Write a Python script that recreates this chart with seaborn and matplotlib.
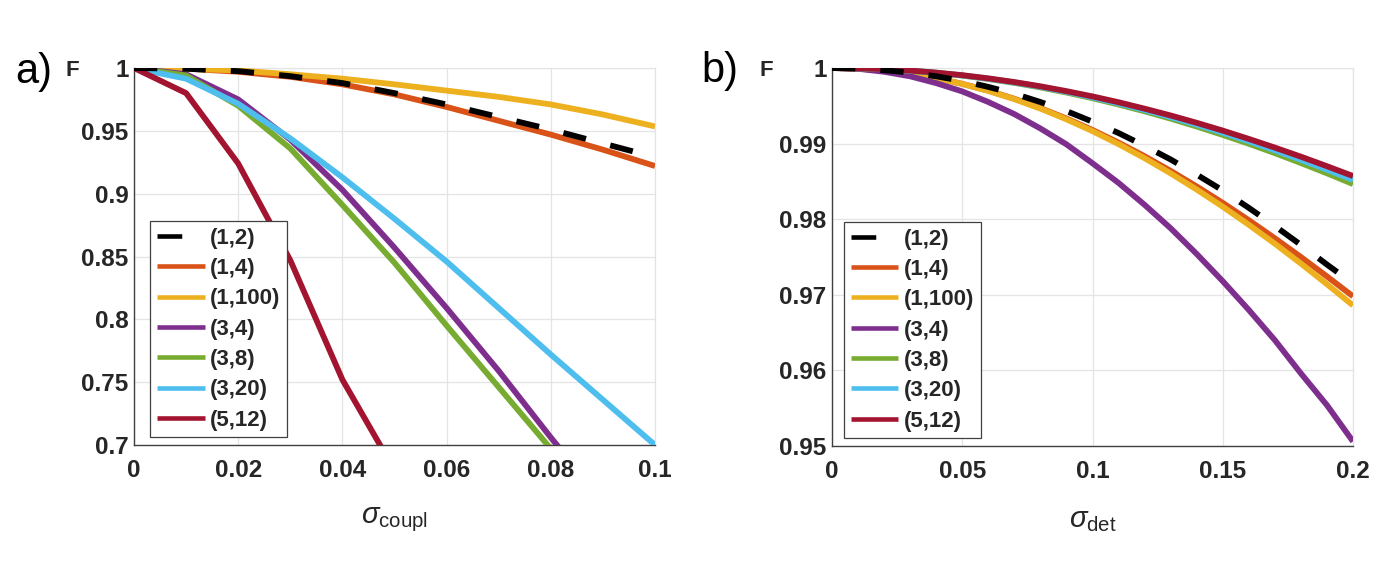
import numpy as np
import pandas as pd
import seaborn as sns
import matplotlib
matplotlib.use("Agg")
import matplotlib.pyplot as plt

# data
labels = ["(1,2)", "(1,4)", "(1,100)", "(3,4)", "(3,8)", "(3,20)", "(5,12)"]
colors = ["#000000", "#D95319", "#EDB120", "#7E2F8E", "#77AC30", "#4DBEEE", "#A2142F"]

# panel a) : fidelity vs sigma_coupl
x_coupl = [0.0, 0.01, 0.02, 0.03, 0.04, 0.05, 0.06, 0.07, 0.08, 0.09, 0.10]
coupl_12 = [1.0, 0.9994, 0.9975, 0.9935, 0.988, 0.980, 0.971, 0.961, 0.951, 0.940, 0.929]
coupl_14 = [1.0, 0.9995, 0.997, 0.993, 0.987, 0.979, 0.969, 0.958, 0.947, 0.935, 0.922]
coupl_1100 = [1.0, 0.9995, 0.998, 0.995, 0.9915, 0.987, 0.982, 0.977, 0.971, 0.963, 0.9535]
coupl_34 = [1.0, 0.995, 0.975, 0.943, 0.903, 0.857, 0.809, 0.759, 0.706, 0.655, 0.605]
coupl_38 = [1.0, 0.994, 0.970, 0.936, 0.891, 0.845, 0.795, 0.746, 0.697, 0.648, 0.600]
coupl_320 = [1.0, 0.9915, 0.9715, 0.944, 0.913, 0.880, 0.846, 0.809, 0.772, 0.736, 0.700]
coupl_512 = [1.0, 0.980, 0.924, 0.847, 0.752, 0.680, np.nan, np.nan, np.nan, np.nan, np.nan]

# panel b) : fidelity vs sigma_det
x_det = [0.0, 0.01, 0.02, 0.03, 0.04, 0.05, 0.06, 0.07, 0.08, 0.09, 0.10,
         0.11, 0.12, 0.13, 0.14, 0.15, 0.16, 0.17, 0.18, 0.19, 0.20]
det_12 = [1.0, 0.99993, 0.9997, 0.9994, 0.9989, 0.9983, 0.9975, 0.9966, 0.9955, 0.9943, 0.9929,
          0.9914, 0.9897, 0.9879, 0.9859, 0.9838, 0.9815, 0.9791, 0.9766, 0.9740, 0.9715]
det_14 = [1.0, 0.99992, 0.99966, 0.99924, 0.99866, 0.99791, 0.99700, 0.99593, 0.99470, 0.99332, 0.99180,
          0.99013, 0.98833, 0.98639, 0.98433, 0.98216, 0.97987, 0.97748, 0.97500, 0.97243, 0.96980]
det_1100 = [1.0, 0.99992, 0.99966, 0.99923, 0.99865, 0.99789, 0.99697, 0.99588, 0.99463, 0.99321, 0.99165,
            0.98993, 0.98807, 0.98606, 0.98392, 0.98165, 0.97926, 0.97676, 0.97413, 0.97140, 0.96860]
det_34 = [1.0, 0.9999, 0.9995, 0.9989, 0.9980, 0.9969, 0.9955, 0.9939, 0.9920, 0.9899, 0.9874,
          0.9848, 0.9819, 0.9788, 0.9754, 0.9718, 0.9680, 0.9640, 0.9596, 0.9554, 0.9506]
det_38 = [1.0, 0.99996, 0.99984, 0.99964, 0.99935, 0.99899, 0.99855, 0.99803, 0.99743, 0.99675, 0.99600,
          0.99517, 0.99427, 0.99330, 0.99226, 0.99115, 0.98998, 0.98874, 0.98743, 0.98607, 0.98465]
det_320 = [1.0, 0.99996, 0.99985, 0.99965, 0.99937, 0.99902, 0.99859, 0.99809, 0.99751, 0.99685, 0.99612,
           0.99532, 0.99445, 0.99351, 0.99251, 0.99144, 0.99031, 0.98911, 0.98786, 0.98655, 0.98520]
det_512 = [1.0, 0.99996, 0.99985, 0.99966, 0.99939, 0.99905, 0.99863, 0.99814, 0.99758, 0.99694, 0.99624,
           0.99547, 0.99462, 0.99372, 0.99275, 0.99172, 0.99062, 0.98947, 0.98827, 0.98701, 0.98571]

coupl_ticks = [0, 0.02, 0.04, 0.06, 0.08, 0.1]
coupl_ticklabels = ["0", "0.02", "0.04", "0.06", "0.08", "0.1"]
coupl_yticks = [0.7, 0.75, 0.8, 0.85, 0.9, 0.95, 1.0]
coupl_yticklabels = ["0.7", "0.75", "0.8", "0.85", "0.9", "0.95", "1"]
det_ticks = [0, 0.05, 0.1, 0.15, 0.2]
det_ticklabels = ["0", "0.05", "0.1", "0.15", "0.2"]
det_yticks = [0.95, 0.96, 0.97, 0.98, 0.99, 1.0]
det_yticklabels = ["0.95", "0.96", "0.97", "0.98", "0.99", "1"]

sns.set_theme(style="whitegrid")
plt.rcParams["font.family"] = ["Liberation Sans", "DejaVu Sans"]
plt.rcParams["mathtext.fontset"] = "custom"
plt.rcParams["mathtext.rm"] = "Liberation Sans"
plt.rcParams["mathtext.it"] = "Liberation Sans:italic"

W, H = 1393, 564
fig = plt.figure(figsize=(W / 100, H / 100), dpi=100)
fig.patch.set_facecolor("white")
ax1 = fig.add_axes([134 / W, 1 - 445 / H, 521 / W, 377 / H])
ax2 = fig.add_axes([832 / W, 1 - 446 / H, 521 / W, 378 / H])


def draw(ax, x, series, xticks, xticklabels, yticks, yticklabels, xlab, leg_anchor):
    for i, (lab, col, ys) in enumerate(zip(labels, colors, series)):
        df = pd.DataFrame({"x": x, "F": ys}).dropna()
        kw = dict(linestyle=(0, (4, 4.3)), zorder=6) if i == 0 else dict(zorder=3 + i * 0.1)
        sns.lineplot(data=df, x="x", y="F", ax=ax, color=col, linewidth=4.2,
                     label=lab, solid_capstyle="butt", **kw)
    ax.set_xlim(xticks[0], xticks[-1])
    ax.set_ylim(yticks[0], yticks[-1])
    ax.set_xticks(xticks)
    ax.set_xticklabels(xticklabels, fontweight="bold")
    ax.set_yticks(yticks)
    ax.set_yticklabels(yticklabels, fontweight="bold")
    ax.tick_params(axis="both", direction="in", length=5, width=0.8, colors="#404040",
                   labelcolor="#262626", labelsize=17.5)
    ax.tick_params(axis="x", pad=10)
    ax.tick_params(axis="y", pad=4)
    ax.set_facecolor("white")
    ax.grid(True, color="#e4e4e4", linewidth=0.9)
    for s in ["left", "bottom"]:
        ax.spines[s].set_color("#404040")
        ax.spines[s].set_linewidth(1.0)
    for s in ["top", "right"]:
        ax.spines[s].set_color("#e4e4e4")
        ax.spines[s].set_linewidth(0.9)
    ax.set_xlabel(xlab, fontsize=21, color="#262626", labelpad=17)
    ax.set_ylabel("")
    leg = ax.legend(loc="upper left", bbox_to_anchor=leg_anchor, borderaxespad=0,
                    prop={"weight": "bold", "size": 16}, handlelength=2.15, handletextpad=0.25,
                    labelspacing=0.42, borderpad=0.3, fancybox=False, framealpha=1,
                    edgecolor="#404040", facecolor="white")
    leg.get_frame().set_linewidth(0.9)
    leg.set_zorder(10)
    for h in leg.get_lines():
        h.set_linewidth(3.3)
        if h.get_color() == "#000000":
            h.set_linestyle((0, (5.4, 10)))


draw(ax1, x_coupl, [coupl_12, coupl_14, coupl_1100, coupl_34, coupl_38, coupl_320, coupl_512],
     coupl_ticks, coupl_ticklabels, coupl_yticks, coupl_yticklabels,
     r"$\sigma_{\mathrm{coupl}}$", (0.031, 0.594))
draw(ax2, x_det, [det_12, det_14, det_1100, det_34, det_38, det_320, det_512],
     det_ticks, det_ticklabels, det_yticks, det_yticklabels,
     r"$\sigma_{\mathrm{det}}$", (0.023, 0.593))

fig.text(34 / W, 1 - 72 / H, "a)", ha="center", va="center", fontsize=30, color="black")
fig.text(72 / W, 1 - 71 / H, "F", ha="center", va="center", fontsize=16, fontweight="bold", color="#262626")
fig.text(720 / W, 1 - 71 / H, "b)", ha="center", va="center", fontsize=30, color="black")
fig.text(766 / W, 1 - 71 / H, "F", ha="center", va="center", fontsize=16, fontweight="bold", color="#262626")

fig.savefig("out.png", dpi=100, facecolor="white")
